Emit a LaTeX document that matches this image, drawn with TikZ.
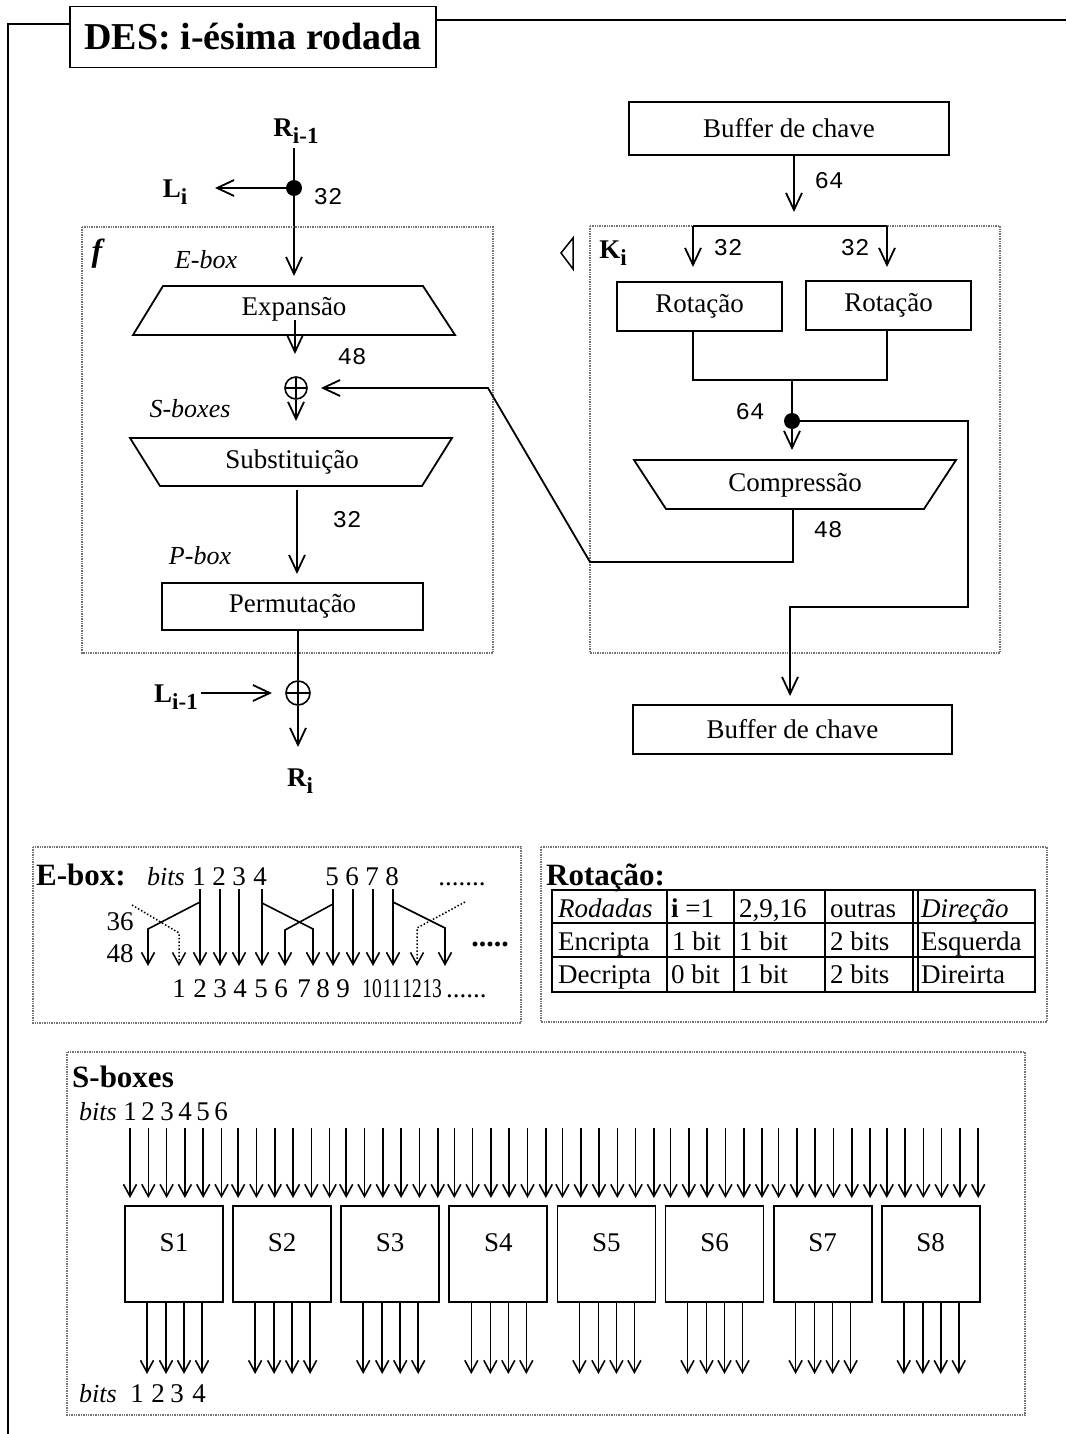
\documentclass[tikz,border=0pt]{standalone}
\usepackage{fontspec}
\setmainfont{Liberation Serif}
\setmonofont{Liberation Mono}
\usetikzlibrary{arrows.meta,calc}
\newcommand{\lowsub}[1]{\raisebox{-7pt}{\fontsize{23}{23}\selectfont #1}}
\newcommand{\narrow}[1]{\scalebox{0.72}[1]{#1}}
\tikzset{
  ln/.style={line width=1.8pt},
  arr/.style={ln,-{Straight Barb[length=17pt,width=16pt]}},
  sarr/.style={line width=1.6pt,-{Straight Barb[length=12pt,width=13pt]}},
  dotarr/.style={line width=1.5pt,dotted,-{Straight Barb[length=12pt,width=13pt]}},
  dframe/.style={draw=black!55,line width=1.4pt,densely dotted},
  box/.style={draw,line width=1.8pt,inner sep=0pt},
  trap/.style={line width=1.8pt},
  txt/.style={inner sep=0pt,font=\fontsize{27}{30}\selectfont},
  ti/.style={inner sep=0pt,font=\fontsize{26}{30}\selectfont\itshape},
  tb/.style={inner sep=0pt,font=\fontsize{31}{34}\selectfont\bfseries},
  num/.style={inner sep=0pt,font=\fontsize{24}{26}\selectfont\ttfamily},
  lab/.style={inner sep=0pt,font=\fontsize{27}{30}\selectfont\bfseries},
  dig/.style={inner sep=0pt,anchor=base,font=\fontsize{27}{30}\selectfont},
  cell/.style={inner sep=0pt,anchor=base west,font=\fontsize{27}{30}\selectfont},
  jdot/.style={circle,fill,inner sep=0pt,minimum size=16pt},
  xor/.style={circle,draw,line width=1.6pt,inner sep=0pt,minimum size=22pt,
    path picture={\draw[line width=1.6pt] (path picture bounding box.north) -- (path picture bounding box.south)
      (path picture bounding box.west) -- (path picture bounding box.east);}},
  tbl/.style={line width=1.6pt},
}
\begin{document}
\begin{tikzpicture}[x=1pt,y=-1pt]
\useasboundingbox[fill=white] (0,0) rectangle (1066,1434);
% ---------- outer frame and title ----------
\node[box,minimum width=366pt,minimum height=61pt,font=\fontsize{38}{40}\selectfont\bfseries] (title) at (253,37) {DES: i-ésima rodada};
\coordinate (tl1) at (70,24);
\coordinate (tl2) at (8,24);
\coordinate (tl3) at (8,1434);
\coordinate (tr1) at (436,20);
\coordinate (tr2) at (1066,20);
\draw[ln] (tl1) -- (tl2) -- (tl3);
\draw[ln] (tr1) -- (tr2);

% ---------- left column: f ----------
\node[lab] (rim1) at (296,131) {R\lowsub{i-1}};
\coordinate (rtop) at (294,148);
\node[jdot] (d1) at (294,188) {};
\node[lab] (li) at (175,192) {L\lowsub{i}};
\coordinate (litip) at (215,188);
\coordinate (expin) at (294,276);
\draw[ln] (rtop) -- (d1);
\draw[arr] (d1) -- (expin);
\draw[arr] (d1) -- (litip);
\node[num] (n32a) at (328,197) {32};

\draw[dframe] (82,227) rectangle (493,653);
\node[inner sep=0pt,font=\fontsize{32}{32}\selectfont\bfseries\itshape] (flab) at (97,254) {f};
\node[ti] (eboxl) at (206,260) {E-box};

\draw[trap] (163,286) -- (423,286) -- (455,335) -- (133,335) -- cycle;
\node[txt] (exp) at (294,309) {Expansão};
\coordinate (e1) at (295,320);
\coordinate (e2) at (295,354);
\draw[arr] (e1) -- (e2);
\node[num] (n48a) at (352,357) {48};
\node[xor] (x1) at (296,388) {};
\coordinate (x1out) at (296,421);
\draw[arr] (x1.south) -- (x1out);
\node[ti] (sboxl) at (190,409) {S-boxes};

\draw[trap] (130,438) -- (452,438) -- (422,486) -- (160,486) -- cycle;
\node[txt] (sub) at (292,462) {Substituição};
\coordinate (s1) at (297,490);
\coordinate (s2) at (297,574);
\draw[arr] (s1) -- (s2);
\node[num] (n32b) at (347,520) {32};
\node[ti] (pboxl) at (200,556) {P-box};
\node[box,txt,minimum width=261pt,minimum height=47pt] (perm) at (292.5,606.5) {Permutação};
\coordinate (p1) at (298,630);
\node[xor,minimum size=24pt] (x2) at (298,693) {};
\draw[ln] (p1) -- (x2.north);
\node[lab] (lim1) at (176,697) {L\lowsub{i-1}};
\coordinate (lstart) at (201,693);
\coordinate (ltip) at (272,693);
\draw[arr] (lstart) -- (ltip);
\coordinate (riin) at (298,747);
\draw[arr] (x2.south) -- (riin);
\node[lab] (ri) at (300,781) {R\lowsub{i}};

% ---------- right column: key ----------
\node[box,txt,minimum width=320pt,minimum height=53pt] (buf1) at (789,128.5) {Buffer de chave};
\coordinate (b1) at (794,155);
\coordinate (b2) at (794,212);
\draw[arr] (b1) -- (b2);
\node[num] (n64a) at (829,181) {64};
\draw[dframe] (590,226) rectangle (1000,653);
\coordinate (sl) at (693,226);
\coordinate (sr) at (887,226);
\draw[ln] (sl) -- (sr);
\coordinate (sld) at (693,267);
\coordinate (srd) at (887,267);
\draw[arr] (sl) -- (sld);
\draw[arr] (sr) -- (srd);
\node[num] (n32c) at (728,248) {32};
\node[num] (n32d) at (855,248) {32};
\draw[line width=1.5pt] (573,238) -- (561,253) -- (573,269) -- cycle;
\node[lab] (ki) at (613,253) {K\lowsub{i}};
\node[box,txt,minimum width=165pt,minimum height=49pt] (rot1) at (699.5,306.5) {Rotação};
\node[box,txt,minimum width=165pt,minimum height=49pt] (rot2) at (888.5,305.5) {Rotação};
\coordinate (m) at (792,380);
\draw[ln] (rot1.south -| sl) -- (sl |- m) -- (sr |- m) -- (rot2.south -| sr);
\node[jdot] (d2) at (792,421) {};
\draw[ln] (m) -- (d2);
\node[num] (n64b) at (750,412) {64};
\coordinate (cin) at (792,450);
\draw[arr] (d2) -- (cin);
\draw[trap] (634,460) -- (956,460) -- (924,509) -- (666,509) -- cycle;
\node[txt] (comp) at (795,485) {Compressão};
\node[num] (n48b) at (828,530) {48};
\coordinate (c1) at (793,509);
\coordinate (c2) at (793,562);
\coordinate (c3) at (590,562);
\coordinate (c4) at (488,388);
\coordinate (x1in) at (321,388);
\draw[arr] (c1) -- (c2) -- (c3) -- (c4) -- (x1in);
\coordinate (k1) at (968,421);
\coordinate (k2) at (968,607);
\coordinate (k3) at (790,607);
\coordinate (k4) at (790,696);
\draw[arr] (d2) -- (k1) -- (k2) -- (k3) -- (k4);
\node[box,txt,minimum width=319pt,minimum height=49pt] (buf2) at (792.5,729.5) {Buffer de chave};

% ---------- E-box panel ----------
\draw[dframe] (33,847) rectangle (521,1023);
\node[tb,anchor=base west] (eboxt) at (36,885) {E-box:};
\node[ti,anchor=base] (ebits) at (166,885) {bits};
\foreach \x/\d in {199/1,219/2,239/3,260/4,332/5,352/6,372/7,392/8}
  \node[dig] (et\d) at (\x,885) {\d};
\node[dig] (etdots) at (462,885) {.......};
\foreach \x in {200,220,239,262,333,353,373,393}
  \draw[sarr] (\x,889) -- (\x,966);
\draw[sarr] (200,902) -- (148,929) -- (148,966);
\draw[dotarr] (132,905) -- (179,933) -- (179,966);
\draw[sarr] (262,903) -- (313,929) -- (313,966);
\draw[sarr] (333,904) -- (285,930) -- (285,966);
\draw[sarr] (393,902) -- (445,928) -- (445,966);
\draw[dotarr] (465,902) -- (417,928) -- (417,966);
\node[dig] (e36) at (120,930) {36};
\node[dig] (e48) at (120,962) {48};
\node[inner sep=0pt,font=\fontsize{30}{30}\selectfont\bfseries] (edots) at (490,944) {.....};
\foreach \x/\d in {179/1,200/2,220/3,240/4,261/5,281/6,304/7,323/8,343/9}
  \node[dig] (eb\d) at (\x,997) {\d};
\foreach \x/\d in {372/10,392/11,412/12,432/13}
  \node[dig] (eb\d) at (\x,997) {\narrow{\d}};
\node[dig,anchor=base west] (ebdots) at (446,997) {......};

% ---------- Rotacao panel ----------
\draw[dframe] (541,847) rectangle (1047,1022);
\node[tb,anchor=base west] (rott) at (546,885) {Rotação:};
\draw[tbl] (552,890) rectangle (1035,992);
\draw[tbl] (552,923) -- (1035,923);
\draw[tbl] (552,957) -- (1035,957);
\foreach \x in {667,734,825,913,918}
  \draw[tbl] (\x,890) -- (\x,992);
\node[cell,font=\fontsize{27}{30}\selectfont\itshape] (c11) at (558,917) {Rodadas};
\node[cell] (c12) at (671,917) {{\bfseries i} =1};
\node[cell] (c13) at (739,917) {2,9,16};
\node[cell] (c14) at (830,917) {outras};
\node[cell,font=\fontsize{27}{30}\selectfont\itshape] (c15) at (921,917) {Direção};
\node[cell] (c21) at (558,950) {Encripta};
\node[cell] (c22) at (672,950) {1 bit};
\node[cell] (c23) at (739,950) {1 bit};
\node[cell] (c24) at (830,950) {2 bits};
\node[cell] (c25) at (921,950) {Esquerda};
\node[cell] (c31) at (558,983) {Decripta};
\node[cell] (c32) at (671,983) {0 bit};
\node[cell] (c33) at (739,983) {1 bit};
\node[cell] (c34) at (830,983) {2 bits};
\node[cell] (c35) at (921,983) {Direirta};

% ---------- S-boxes panel ----------
\draw[dframe] (67,1052) rectangle (1025,1415);
\node[tb,anchor=base west] (sbt) at (72,1087) {S-boxes};
\node[ti,anchor=base west] (sbits) at (79,1120) {bits};
\foreach \x/\d in {130/1,148/2,167/3,185/4,203/5,221/6}
  \node[dig] (si\d) at (\x,1120) {\d};
\foreach \i in {1,...,8} {
  \pgfmathsetmacro\L{125+108.1*(\i-1)}
  \node[box,minimum width=98pt,minimum height=96pt] (S\i) at ({\L+49},1254) {};
  \node[txt] (SL\i) at ({\L+49},1243) {S\i};
  \foreach \j in {0,...,5}
    \draw[sarr] ({\L+5+18.3*\j},1128) -- ({\L+5+18.3*\j},1198);
  \foreach \o in {22,41,59,77}
    \draw[sarr] ({\L+\o},1302) -- ({\L+\o},1374);
}
\node[ti,anchor=base west] (sbits2) at (79,1402) {bits};
\foreach \x/\d in {137/1,158/2,177/3,199/4}
  \node[dig] (so\d) at (\x,1402) {\d};
\end{tikzpicture}
\end{document}
